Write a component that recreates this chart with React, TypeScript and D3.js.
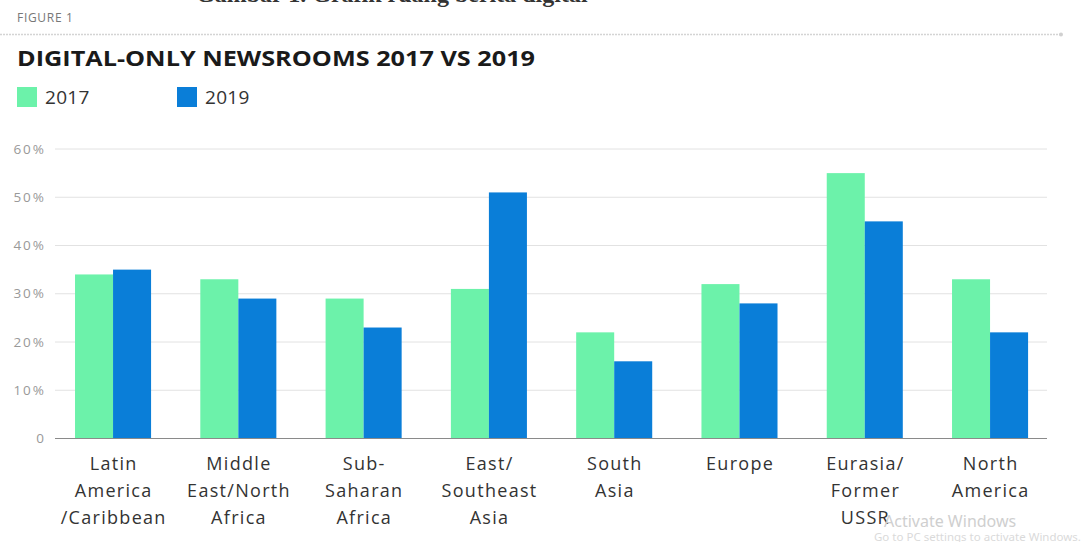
import React from 'react';
import * as d3 from 'd3';

const categories: string[][] = [
  ['Latin', 'America', '/Caribbean'],
  ['Middle', 'East/North', 'Africa'],
  ['Sub-', 'Saharan', 'Africa'],
  ['East/', 'Southeast', 'Asia'],
  ['South', 'Asia'],
  ['Europe'],
  ['Eurasia/', 'Former', 'USSR'],
  ['North', 'America'],
];
const series = ['2017', '2019'];
const values2017 = [34, 33, 29, 31, 22, 32, 55, 33];
const values2019 = [35, 29, 23, 51, 16, 28, 45, 22];
const yTicks = [0, 10, 20, 30, 40, 50, 60];
const colors = ['#6cf2aa', '#0a7ed8'];

const W = 1082;
const H = 542;
const FONT = "'Open Sans', 'Noto Sans', sans-serif";

export default function App() {
  const keys = categories.map((c) => c.join(' '));
  const x = d3
    .scaleBand<string>()
    .domain(keys)
    .range([50.4, 1052.7])
    .paddingInner(0.393)
    .paddingOuter(0.1965);
  const x1 = d3.scaleBand<string>().domain(series).range([0, x.bandwidth()]);
  const y = d3.scaleLinear().domain([0, 60]).range([438.5, 149]);
  const data = [values2017, values2019];

  return (
    <svg
      width={W}
      height={H}
      viewBox={`0 0 ${W} ${H}`}
      style={{ position: 'absolute', left: 0, top: 0, background: '#fff' }}
      fontFamily={FONT}
    >
      <rect x={0} y={0} width={W} height={H} fill="#fff" />
      {/* cut-off caption from the source document */}
      <text x={196} y={2} fontFamily="'Liberation Serif', serif" fontWeight="bold" fontSize={24} fill="#333">
        Gambar 1. Grafik ruang berita digital
      </text>

      <text x={17} y={22} fontSize={12} fill="#777" letterSpacing={0.7}>
        FIGURE 1
      </text>
      <line x1={0} x2={1060} y1={34.5} y2={34.5} stroke="#d4d4d4" strokeWidth={1.5} strokeDasharray="2 1" />
      <circle cx={1061} cy={34.5} r={2} fill="#d0d0d0" />

      <text
        x={17}
        y={66}
        fontSize={22}
        fontWeight="bold"
        fill="#1a1a1a"
        textLength={518}
        lengthAdjust="spacingAndGlyphs"
      >
        DIGITAL-ONLY NEWSROOMS 2017 VS 2019
      </text>

      {series.map((s, i) => (
        <g key={s} transform={`translate(${i === 0 ? 17 : 177},0)`}>
          <rect x={0} y={87} width={20} height={20} fill={colors[i]} />
          <text x={28} y={104} fontSize={19} fill="#333" letterSpacing={0.3}>
            {s}
          </text>
        </g>
      ))}

      {/* grid */}
      {yTicks.map((t) => (
        <g key={t}>
          {t > 0 && (
            <line x1={55} x2={1047} y1={y(t)} y2={y(t)} stroke="#e2e2e2" strokeWidth={1} />
          )}
          <text x={46} y={y(t) + 4.5} fontSize={13.5} fill="#999" textAnchor="end" letterSpacing={2}>
            {t === 0 ? '0' : `${t}%`}
          </text>
        </g>
      ))}

      {/* bars */}
      {keys.map((k, ci) => (
        <g key={k} transform={`translate(${x(k)},0)`}>
          {series.map((s, si) => (
            <rect
              key={s}
              x={x1(s)}
              y={y(data[si][ci])}
              width={x1.bandwidth()}
              height={y(0) - y(data[si][ci])}
              fill={colors[si]}
            />
          ))}
        </g>
      ))}

      <line x1={55} x2={1047} y1={y(0)} y2={y(0)} stroke="#8a8a8a" strokeWidth={1.2} />

      {/* x labels */}
      {categories.map((lines, ci) => {
        const cx = (x(keys[ci]) as number) + x.bandwidth() / 2;
        return (
          <text key={ci} y={470} fontSize={18} fill="#333" textAnchor="middle" letterSpacing={1.3}>
            {lines.map((l, li) => (
              <tspan key={li} x={cx + 0.65} dy={li === 0 ? 0 : 27}>
                {l}
              </tspan>
            ))}
          </text>
        );
      })}

      {/* OS watermark */}
      <text x={884} y={527} fontSize={16} fill="#cfcfcf" fontFamily="'Noto Sans', sans-serif">
        Activate Windows
      </text>
      <text x={874} y={541} fontSize={11.5} fill="#dadada" fontFamily="'Noto Sans', sans-serif">
        Go to PC settings to activate Windows.
      </text>
    </svg>
  );
}
